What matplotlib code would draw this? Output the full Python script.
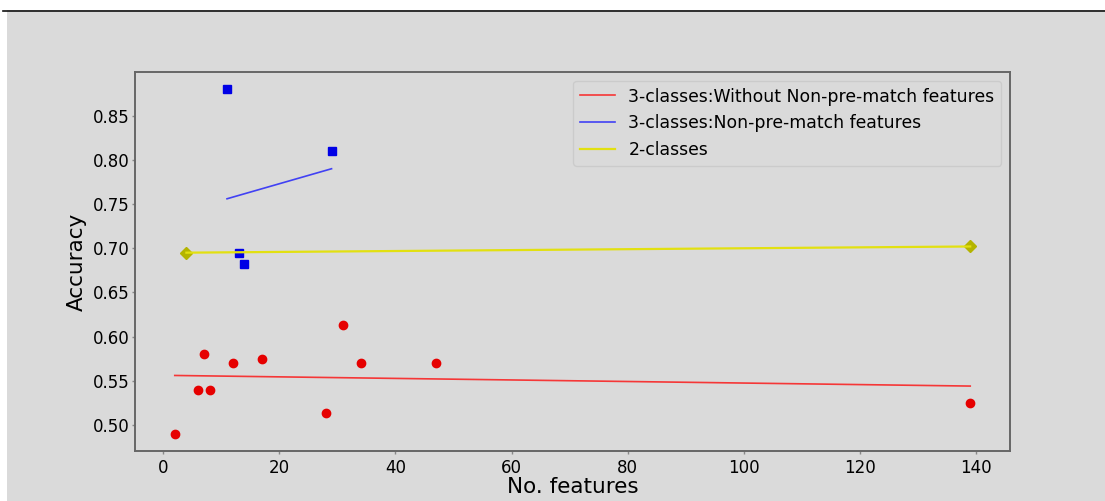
import matplotlib
matplotlib.use("Agg")
import matplotlib.pyplot as plt
from matplotlib.patches import Rectangle
from matplotlib.lines import Line2D

# --- data ---
red_x = [2, 6, 7, 8, 12, 17, 28, 31, 34, 47, 139]
red_y = [0.49, 0.54, 0.58, 0.539, 0.57, 0.575, 0.513, 0.613, 0.57, 0.57, 0.525]
red_fit_x = [2, 139]
red_fit_y = [0.556, 0.544]

blue_x = [11, 13, 14, 29]
blue_y = [0.88, 0.695, 0.682, 0.81]
blue_fit_x = [11, 29]
blue_fit_y = [0.756, 0.790]

yel_x = [4, 139]
yel_y = [0.695, 0.702]

labels = ["3-classes:Without Non-pre-match features",
          "3-classes:Non-pre-match features",
          "2-classes"]

BG = "#dadada"
fig = plt.figure(figsize=(11.05, 5.01), dpi=100, facecolor=BG)
# screenshot frame: white strip on top / left and a dark rule
fig.patches.append(Rectangle((0, 491/501), 1, 10/501, transform=fig.transFigure,
                             facecolor="white", edgecolor="none", zorder=-5))
fig.patches.append(Rectangle((0, 0), 7/1105, 1, transform=fig.transFigure,
                             facecolor="white", edgecolor="none", zorder=-5))
fig.lines.append(Line2D([3/1105, 1], [490.5/501, 490.5/501], transform=fig.transFigure,
                        color="#111111", linewidth=1.2))

ax = fig.add_axes([135/1105, 50/501, 875/1105, 379/501])
ax.set_facecolor(BG)

ax.plot(red_x, red_y, "o", color="#e60000", markersize=6, linestyle="none")
ax.plot(red_fit_x, red_fit_y, color="#ff0000", alpha=0.75, linewidth=1.2, label=labels[0])

ax.plot(blue_x, blue_y, "s", color="#0000e6", markersize=6, linestyle="none")
ax.plot(blue_fit_x, blue_fit_y, color="#0000ff", alpha=0.7, linewidth=1.2, label=labels[1])

ax.plot(yel_x, yel_y, "D", color="#b4b400", markersize=6, linestyle="none")
ax.plot(yel_x, yel_y, color="#e2e010", linewidth=1.6, label=labels[2])

ax.set_xlabel("No. features", fontsize=15.5, labelpad=0)
ax.set_ylabel("Accuracy", fontsize=15.5, labelpad=4.5)
ax.tick_params(axis="x", labelsize=12, color="#888888", width=1.0, length=2.5, pad=3.2)
ax.tick_params(axis="y", labelsize=12, color="#888888", width=1.0, length=2, pad=1.8)
for s in ax.spines.values():
    s.set_color("#666666")
    s.set_linewidth(1.4)

leg = ax.legend(loc="upper right", fontsize=12.4, facecolor=BG, edgecolor="#c8c8c8",
                framealpha=0.8, borderaxespad=0.5)

fig.savefig("out.png", dpi=100, facecolor=BG)
